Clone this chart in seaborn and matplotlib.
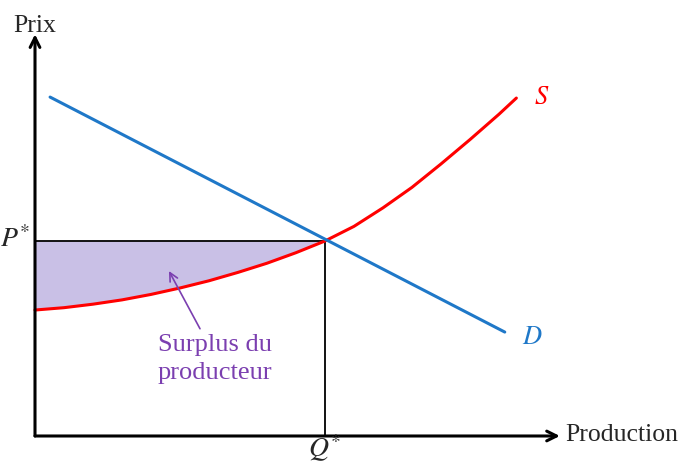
import numpy as np
import pandas as pd
import seaborn as sns
import matplotlib.pyplot as plt

# quantities / prices (arbitrary units, Q*=10, P*=10)
supply_q = [0, 1, 2, 3, 4, 5, 6, 7, 8, 9, 10, 11, 12, 13, 14, 15, 16, 16.6]
supply_p = [6.46, 6.58, 6.76, 6.98, 7.26, 7.59, 7.96, 8.39, 8.86, 9.4, 10.0,
            10.75, 11.7, 12.75, 13.95, 15.2, 16.5, 17.33]
demand_q = [0.52, 16.2]
demand_p = [17.38, 5.33]
q_star = 10
p_star = 10

supply = pd.DataFrame({"Q": supply_q, "P": supply_p})
demand = pd.DataFrame({"Q": demand_q, "P": demand_p})

sns.set_style("white")
plt.rcParams["font.family"] = ["Liberation Serif", "DejaVu Serif"]
plt.rcParams["mathtext.fontset"] = "stix"

fig = plt.figure(figsize=(6.86, 4.64), dpi=100)
ax = fig.add_axes([0, 0, 1, 1])

# producer surplus
left = supply[supply["Q"] <= q_star]
ax.fill_between(left["Q"], left["P"], p_star, color="#c9c0e6", lw=0, zorder=1)

# P* and Q* guides
ax.plot([0, q_star], [p_star, p_star], color="black", lw=1.3, zorder=2)
ax.plot([q_star, q_star], [0, p_star], color="black", lw=1.3, zorder=2)

sns.lineplot(data=supply, x="Q", y="P", color="#ff0000", lw=2.2, ax=ax,
             sort=False, zorder=3)
sns.lineplot(data=demand, x="Q", y="P", color="#1f78c8", lw=2.2, ax=ax,
             sort=False, zorder=3)
ax.set_xlim(-1.207, 22.45)
ax.set_ylim(-1.385, 22.41)
ax.axis("off")

# axes with arrows
arrow = dict(arrowstyle="->,head_length=0.7,head_width=0.35", lw=2.2, color="black",
             shrinkA=0, shrinkB=0)
ax.annotate("", xy=(0, 20.6), xytext=(0, 0), arrowprops=arrow)
ax.annotate("", xy=(18.1, 0), xytext=(0, 0), arrowprops=arrow)

ax.text(0, 21.1, "Prix", fontsize=18.5, ha="center", va="center")
ax.text(18.3, 0.1, "Production", fontsize=18.5, ha="left", va="center")
ax.text(-0.15, p_star + 0.15, r"$P^{*}$", fontsize=20, ha="right", va="center")
ax.text(q_star, -0.6, r"$Q^{*}$", fontsize=20, ha="center", va="center")
ax.text(17.2, 17.4, r"$S$", fontsize=19, color="#ff0000", ha="left", va="center")
ax.text(16.8, 5.1, r"$D$", fontsize=19, color="#1f78c8", ha="left", va="center")

purple = "#7b3fb0"
ax.annotate("", xy=(4.62, 8.46), xytext=(5.69, 5.5),
            arrowprops=dict(arrowstyle="->,head_length=0.6,head_width=0.3",
                            color=purple, lw=1.2, shrinkA=0, shrinkB=0))
ax.text(6.2, 4.0, "Surplus du\nproducteur", fontsize=19, color=purple,
        ha="center", va="center", linespacing=1.4)

fig.savefig("out.png", dpi=100)
